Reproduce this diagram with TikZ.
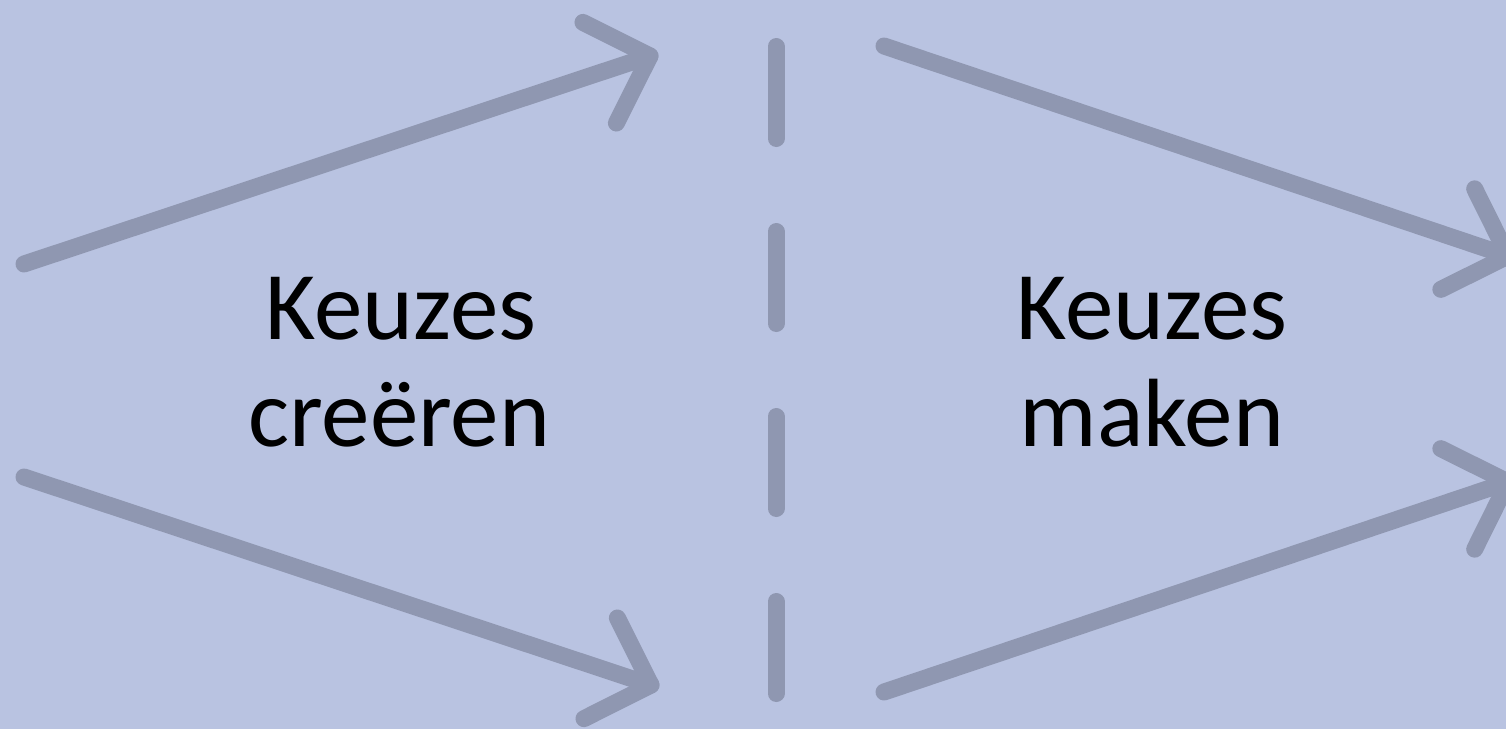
\documentclass[tikz,border=0pt]{standalone}
\usepackage{fontspec}
\setmainfont{Carlito}
\usetikzlibrary{calc}
\definecolor{bgc}{RGB}{185,195,225}
\definecolor{arrc}{RGB}{143,151,177}
\tikzset{
  arr/.style={draw=arrc, line width=17pt, line cap=round, line join=round},
  sep/.style={draw=arrc, line width=17pt, line cap=round, dash pattern=on 92pt off 93pt},
  lbl/.style={anchor=base, inner sep=0pt, font=\fontsize{97}{107}\selectfont, text=black}
}
\begin{document}
\begin{tikzpicture}[x=1pt,y=-1pt]
  \fill[bgc] (0,0) rectangle (1506,729);
  \useasboundingbox (0,0) rectangle (1506,729);
  \clip (0,0) rectangle (1506,729);
  % arrow end points
  \coordinate (a1s) at (24,264);   \coordinate (a1e) at (650,56);
  \coordinate (a2s) at (24,477);   \coordinate (a2e) at (651,685);
  \coordinate (a3s) at (884,46);   \coordinate (a3e) at (1508,256);
  \coordinate (a4s) at (884,692);  \coordinate (a4e) at (1508,482);
  \coordinate (d1) at (776,46.5);  \coordinate (d2) at (776,700);
  % arrows
  \foreach \s/\e in {a1s/a1e, a2s/a2e, a3s/a3e, a4s/a4e}{
    \draw[arr] (\s) -- (\e);
    \draw[arr] ($(\e)!75pt!45:(\s)$) -- (\e) -- ($(\e)!75pt!-45:(\s)$);
  }
  % dashed separator
  \draw[sep] (d1) -- (d2);
  % labels
  \node[lbl] (l1a) at (401,339) {Keuzes};
  \node[lbl] (l1b) at (399,446) {creëren};
  \node[lbl] (l2a) at (1152,339) {Keuzes};
  \node[lbl] (l2b) at (1152,446) {maken};
\end{tikzpicture}
\end{document}
